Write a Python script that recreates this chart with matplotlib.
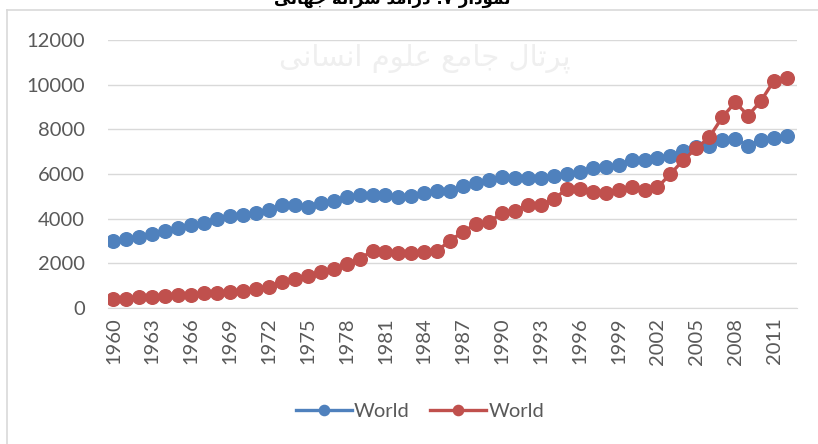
import matplotlib.pyplot as plt
from matplotlib.lines import Line2D

# years on the category axis
years = list(range(1960, 2013))

# blue series (World)
world_blue = [3020, 3090, 3195, 3315, 3465, 3585, 3730, 3810, 3985, 4135,
              4180, 4240, 4405, 4615, 4615, 4540, 4705, 4805, 4955, 5060,
              5060, 5050, 4960, 5000, 5150, 5250, 5255, 5450, 5600, 5735,
              5850, 5810, 5810, 5810, 5900, 6000, 6075, 6255, 6300, 6420,
              6630, 6630, 6705, 6825, 7045, 7195, 7270, 7525, 7570, 7270,
              7525, 7615, 7720]

# red series (World)
world_red = [400, 405, 480, 510, 540, 580, 600, 655, 660, 700,
             775, 850, 955, 1150, 1300, 1420, 1595, 1745, 1970, 2195,
             2565, 2525, 2450, 2450, 2495, 2570, 3015, 3420, 3765, 3865,
             4240, 4360, 4615, 4615, 4880, 5330, 5330, 5180, 5135, 5285,
             5405, 5285, 5405, 6000, 6630, 7150, 7645, 8540, 9210, 8615,
             9285, 10185, 10300]

yticks = [0, 2000, 4000, 6000, 8000, 10000, 12000]
xtick_years = list(range(1960, 2013, 3))

title = "ﻰﻧﺎﻬﺟ ﻪﻧﺍﺮﺳ ﺪﻣﺁﺭﺩ :۷ ﺭﺍﺩﻮﻤﻧ"
watermark = "ﻰﻧﺎﺴﻧﺍ ﻡﻮﻠﻋ ﻊﻣﺎﺟ ﻝﺎﺗﺮﭘ"

blue = '#4F81BD'
red = '#C0504D'
txt = '#595959'
grid = '#D9D9D9'

plt.rcParams['font.family'] = ['Lato', 'DejaVu Sans']

fig = plt.figure(figsize=(8.18, 4.44), dpi=100)
ax = fig.add_axes([108 / 818, 1 - 308 / 444, (797 - 108) / 818, (308 - 40) / 444])

# faint watermark from the scanned page
fig.text(425 / 818, 1 - 58 / 444, watermark, family=['DejaVu Sans'],
         fontsize=21, color='#EFEFEF', ha='center', va='center', zorder=0)

ax.plot(years, world_blue, color=blue, lw=2.4, marker='o', ms=9.8,
        label='World', zorder=3)
ax.plot(years, world_red, color=red, lw=2.4, marker='o', ms=9.8,
        label='World', zorder=4)

ax.set_xlim(1960 - 0.42, 2012 + 0.77)
ax.set_ylim(0, 12000)
ax.set_yticks(yticks)
ax.set_xticks(xtick_years)
ax.set_xticklabels([str(y) for y in xtick_years], rotation=90)
ax.tick_params(axis='y', length=0, pad=16.5, labelsize=14.5, labelcolor=txt)
ax.tick_params(axis='x', length=0, pad=7, labelsize=14.5, labelcolor=txt)
ax.grid(axis='y', color=grid, lw=1)
ax.set_axisbelow(True)
for s in ['top', 'right', 'left']:
    ax.spines[s].set_visible(False)
ax.spines['bottom'].set_color(grid)
ax.patch.set_alpha(0)

leg = fig.legend(loc='center', bbox_to_anchor=(420 / 818, 1 - 411 / 444),
                 ncol=2, frameon=False, fontsize=14.5, handlelength=2.8,
                 columnspacing=1.0, handletextpad=0.1, markerscale=0.75)
for t in leg.get_texts():
    t.set_color(txt)

# chart border (partly off the page) and clipped title
fig.add_artist(Line2D([7 / 818, 7 / 818], [0, 1 - 10 / 444], color=grid, lw=1.2))
fig.add_artist(Line2D([7 / 818, 1], [1 - 10 / 444, 1 - 10 / 444], color=grid, lw=1.2))
fig.text(392 / 818, 1 - 4 / 444, title, family=['DejaVu Sans'], fontsize=12,
         fontweight='bold', color='black', ha='center', va='baseline')

fig.savefig('out.png', dpi=100)
